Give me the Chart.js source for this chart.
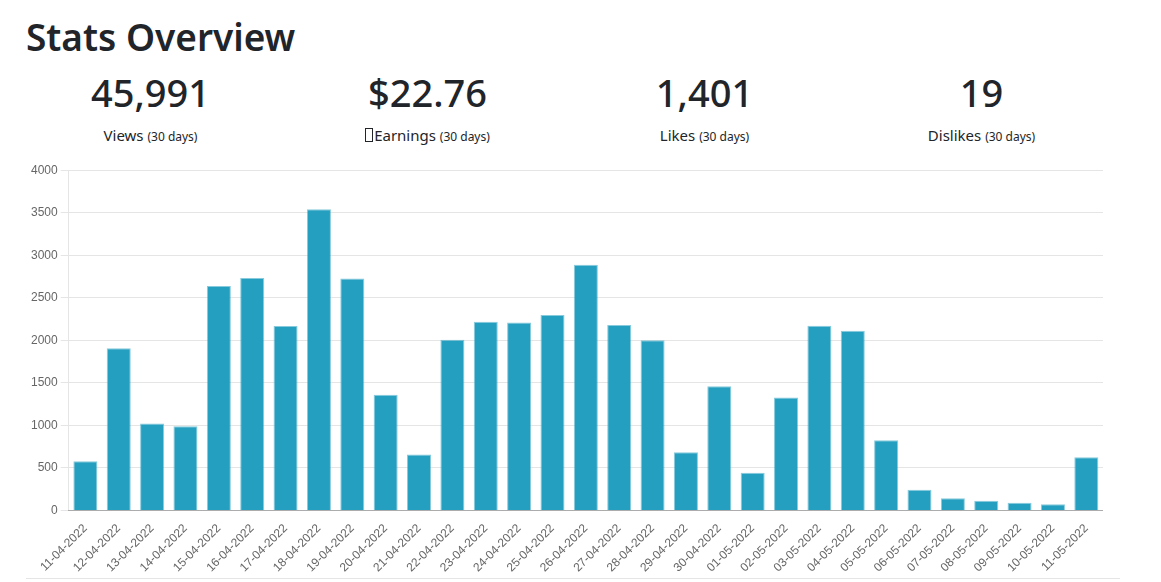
<!DOCTYPE html>
<html>
<head>
<meta charset="utf-8">
<title>Stats Overview</title>
<script src="https://cdn.jsdelivr.net/npm/chart.js@4/dist/chart.umd.min.js"></script>
<style>
    html, body { margin: 0; padding: 0; background: #fff; }
    body {
        width: 1161px;
        height: 582px;
        position: relative;
        overflow: hidden;
        font-family: "Noto Sans", "Open Sans", sans-serif;
        color: #212529;
    }
    h2 {
        position: absolute;
        left: 26px;
        top: 12px;
        margin: 0;
        font-size: 37px;
        font-weight: 600;
        line-height: 50px;
    }
    .stats {
        position: absolute;
        left: 12px;
        top: 64px;
        width: 1108px;
        display: flex;
    }
    .stat {
        width: 277px;
        text-align: center;
    }
    .stat .num {
        font-size: 38px;
        line-height: 56px;
        font-weight: 500;
    }
    .stat .lbl {
        margin-top: 3px;
        font-size: 15px;
        line-height: 24px;
    }
    .stat .lbl small { font-size: 12px; }
    .icon {
        display: inline-block;
        width: 6px;
        height: 12px;
        border: 1px solid #212529;
        vertical-align: -1px;
        margin-right: 1px;
    }
    .chart-box {
        position: absolute;
        left: 28px;
        top: 160px;
        width: 1075px;
        height: 418px;
    }
    hr {
        position: absolute;
        left: 26px;
        top: 578px;
        width: 1094px;
        margin: 0;
        border: 0;
        border-top: 1px solid rgba(0, 0, 0, 0.1);
    }
</style>
</head>
<body>
<h2>Stats Overview</h2>
<div class="stats" id="stats"></div>
<div class="chart-box"><canvas id="viewsChart"></canvas></div>
<hr>
<script>
// Summary figures
const statValues = ['45,991', '$22.76', '1,401', '19'];
const statLabels = ['Views', 'Earnings', 'Likes', 'Dislikes'];

// Daily views
const days = [
    '11-04-2022', '12-04-2022', '13-04-2022', '14-04-2022', '15-04-2022',
    '16-04-2022', '17-04-2022', '18-04-2022', '19-04-2022', '20-04-2022',
    '21-04-2022', '22-04-2022', '23-04-2022', '24-04-2022', '25-04-2022',
    '26-04-2022', '27-04-2022', '28-04-2022', '29-04-2022', '30-04-2022',
    '01-05-2022', '02-05-2022', '03-05-2022', '04-05-2022', '05-05-2022',
    '06-05-2022', '07-05-2022', '08-05-2022', '09-05-2022', '10-05-2022',
    '11-05-2022'
];
const views = [
    578, 1908, 1023, 991, 2639, 2734, 2167, 3540, 2726, 1361,
    657, 2006, 2218, 2210, 2297, 2887, 2179, 2002, 684, 1459,
    444, 1329, 2171, 2112, 826, 244, 142, 114, 90, 71,
    625
];

// Build stat blocks
function renderStats() {
    const wrap = document.getElementById('stats');
    statValues.forEach((val, i) => {
        const col = document.createElement('div');
        col.className = 'stat';
        const icon = statLabels[i] === 'Earnings' ? '<span class="icon"></span>' : '';
        col.innerHTML = '<div class="num">' + val + '</div>' +
            '<div class="lbl">' + icon + statLabels[i] + ' <small>(30 days)</small></div>';
        wrap.appendChild(col);
    });
}

function initViewsChart() {
    const ctx = document.getElementById('viewsChart');
    if (!ctx) return;

    Chart.defaults.font.family = "'Liberation Sans', Arial, sans-serif";

    new Chart(ctx, {
        type: 'bar',
        data: {
            labels: days,
            datasets: [{
                label: 'Views',
                data: views,
                backgroundColor: '#249fc0',
                borderColor: 'rgba(36, 159, 192, 0.55)',
                borderWidth: 1
            }]
        },
        options: {
            responsive: true,
            maintainAspectRatio: false,
            animation: false,
            plugins: {
                legend: { display: false },
                tooltip: { enabled: false }
            },
            scales: {
                x: {
                    grid: { display: false },
                    border: { color: 'rgba(0, 0, 0, 0.25)' },
                    ticks: {
                        color: '#666',
                        font: { size: 12 },
                        maxRotation: 45,
                        minRotation: 45,
                        autoSkip: false
                    }
                },
                y: {
                    min: 0,
                    max: 4000,
                    grid: { color: 'rgba(0, 0, 0, 0.1)' },
                    border: { color: 'rgba(0, 0, 0, 0.1)' },
                    ticks: {
                        color: '#666',
                        font: { size: 12 },
                        stepSize: 500,
                        callback: (value) => String(value)
                    }
                }
            }
        }
    });
}

renderStats();
initViewsChart();
</script>
</body>
</html>
